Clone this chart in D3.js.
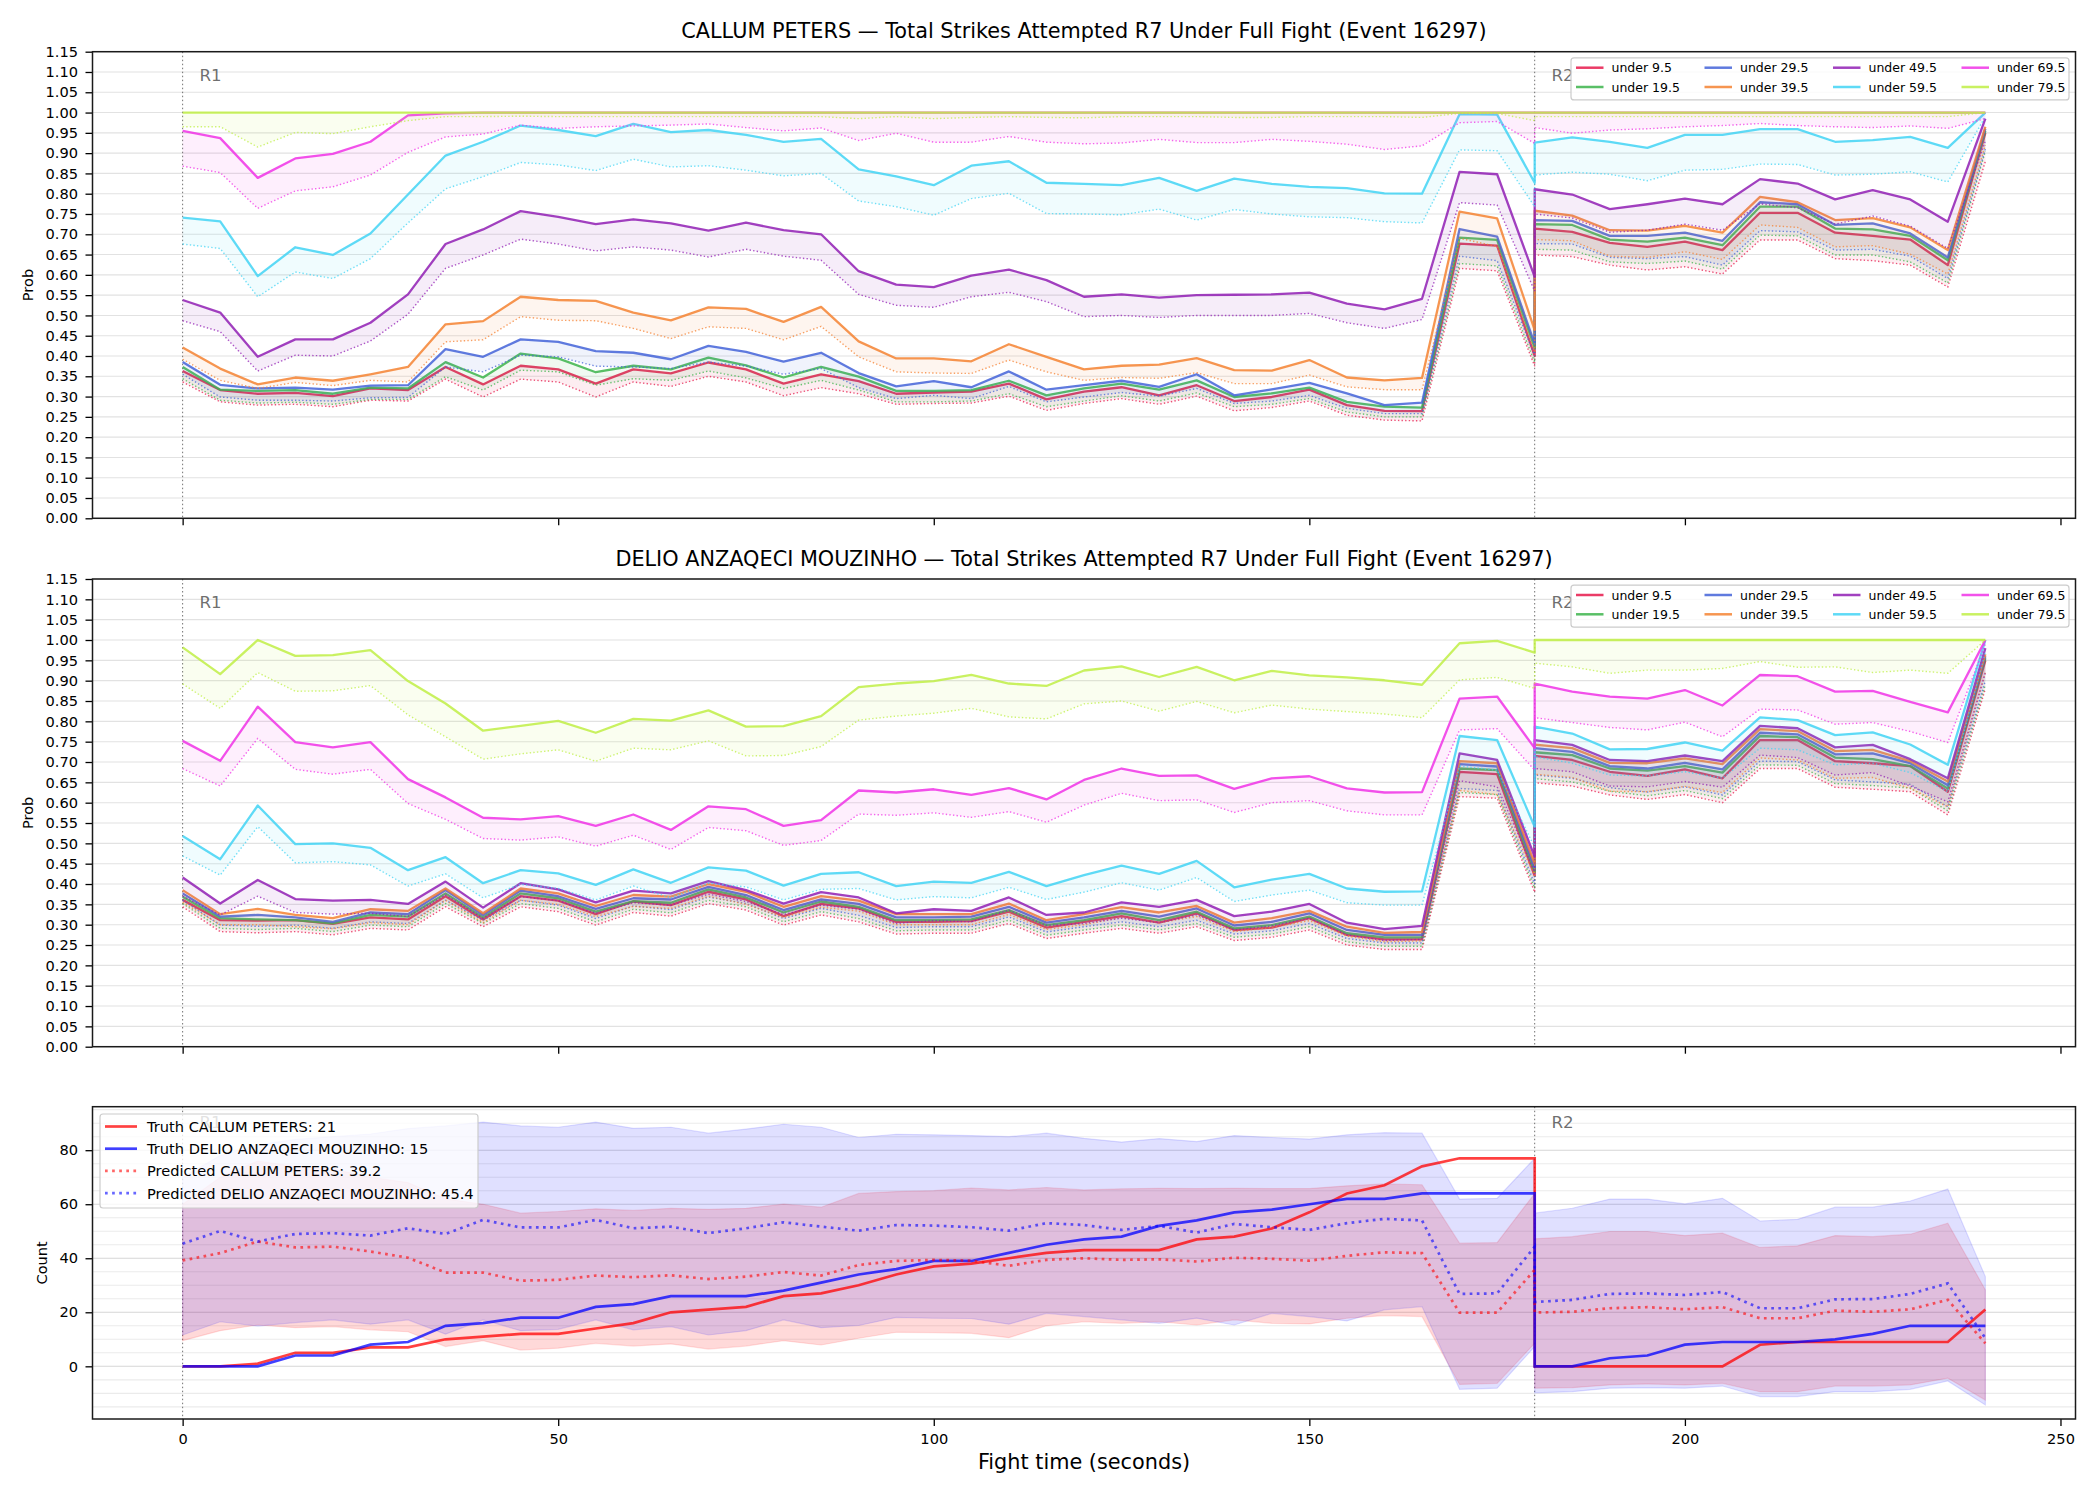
<!DOCTYPE html>
<html>
<head>
<meta charset="utf-8">
<script src="https://cdn.jsdelivr.net/npm/d3@7"></script>
<style>
  body { margin: 0; background: #fff; }
  svg { display: block; }
</style>
</head>
<body>
<div id="chart"></div>
<script>
// time axis: round 1 (0..180) then round 2 restarts at 180
const TIMES = [0,5,10,15,20,25,30,35,40,45,50,55,60,65,70,75,80,85,90,95,100,105,110,115,120,125,130,135,140,145,150,155,160,165,170,175,180,
  180,185,190,195,200,205,210,215,220,225,230,235,240];
const X_TICKS = [0, 50, 100, 150, 200, 250];
const COUNT_TICKS = [0, 20, 40, 60, 80];
const ROUND_STARTS = [0, 180];
const ROUND_LABELS = ['R1', 'R2'];

const LINE_NAMES = ['under 9.5', 'under 19.5', 'under 29.5', 'under 39.5', 'under 49.5', 'under 59.5', 'under 69.5', 'under 79.5'];
const LINE_COLORS = ['#e6194b', '#3cb44b', '#4363d8', '#f58231', '#911eb4', '#42d4f4', '#f032e6', '#bfef45'];

// CALLUM PETERS, solid = prob, _LO = dotted lower line
const C_U9 = [.363,.316,.307,.309,.301,.320,.316,.373,.330,.376,.367,.332,.367,.357,.384,.367,.332,.355,.338,.307,.310,.312,.332,.293,.312,.323,.303,.328,.289,.299,.317,.279,.265,.264,.677,.672,.400,
  .714,.706,.679,.669,.682,.661,.753,.753,.704,.696,.687,.624,.950];
const C_U9_LO = [.336,.287,.279,.281,.275,.291,.289,.343,.299,.343,.336,.299,.336,.325,.350,.336,.302,.322,.307,.281,.283,.284,.301,.266,.283,.295,.281,.301,.265,.273,.289,.254,.242,.240,.616,.610,.375,
  .649,.645,.624,.612,.620,.602,.686,.686,.640,.635,.624,.570,.880];
const C_U19 = [.373,.317,.314,.316,.307,.322,.320,.385,.347,.406,.394,.360,.376,.367,.396,.377,.347,.373,.349,.314,.314,.316,.339,.303,.320,.332,.317,.340,.299,.308,.322,.287,.275,.273,.692,.686,.420,
  .725,.723,.687,.682,.692,.673,.768,.768,.714,.712,.696,.636,.955];
const C_U19_LO = [.344,.291,.284,.286,.281,.293,.293,.349,.316,.365,.361,.328,.344,.340,.363,.346,.320,.340,.316,.287,.287,.289,.307,.275,.289,.302,.289,.309,.275,.281,.295,.262,.250,.250,.628,.622,.385,
  .663,.661,.632,.628,.634,.614,.698,.696,.649,.649,.632,.580,.905];
const C_U29 = [.385,.329,.320,.322,.317,.327,.328,.417,.398,.441,.435,.412,.408,.392,.425,.410,.386,.408,.358,.325,.338,.323,.362,.317,.328,.339,.324,.355,.303,.318,.334,.308,.279,.285,.713,.694,.430,
  .735,.733,.696,.696,.704,.684,.779,.774,.723,.727,.702,.643,.960];
const C_U29_LO = [.355,.299,.291,.291,.289,.297,.298,.373,.361,.402,.398,.375,.373,.369,.385,.375,.355,.369,.322,.295,.303,.295,.325,.287,.299,.310,.301,.320,.283,.289,.303,.271,.258,.258,.646,.635,.400,
  .677,.676,.643,.640,.645,.624,.709,.706,.661,.663,.646,.591,.910];
const C_U39 = [.421,.369,.330,.347,.339,.355,.373,.478,.486,.546,.538,.536,.507,.488,.520,.516,.484,.521,.436,.394,.394,.387,.429,.398,.367,.376,.379,.395,.365,.364,.390,.347,.340,.346,.756,.739,.464,
  .758,.746,.710,.709,.721,.704,.792,.779,.735,.740,.717,.661,.965];
const C_U39_LO = [.392,.340,.320,.335,.327,.340,.336,.435,.440,.497,.488,.487,.468,.443,.472,.468,.440,.473,.398,.361,.358,.357,.390,.361,.340,.347,.345,.359,.332,.332,.353,.324,.317,.317,.690,.670,.410,
  .687,.684,.646,.643,.657,.638,.723,.717,.669,.672,.651,.602,.920];
const C_U49 = [.538,.507,.398,.441,.441,.482,.552,.676,.712,.757,.743,.725,.737,.727,.709,.729,.710,.700,.609,.576,.570,.598,.613,.587,.546,.552,.544,.550,.551,.552,.556,.529,.515,.541,.854,.848,.595,
  .811,.798,.762,.774,.788,.774,.836,.825,.786,.809,.786,.731,.985];
const C_U49_LO = [.487,.460,.363,.402,.400,.437,.503,.616,.649,.688,.676,.659,.669,.661,.644,.663,.646,.636,.552,.525,.520,.546,.557,.534,.497,.500,.495,.500,.500,.500,.505,.482,.468,.490,.778,.772,.560,
  .750,.740,.705,.710,.725,.710,.775,.765,.725,.745,.720,.665,.930];
const C_U59 = [.741,.732,.597,.668,.649,.702,.798,.894,.928,.968,.957,.942,.972,.952,.957,.945,.928,.935,.860,.843,.821,.869,.880,.827,.824,.821,.839,.807,.837,.824,.817,.814,.801,.800,.996,.995,.827,
  .926,.939,.928,.913,.945,.945,.959,.959,.928,.932,.940,.913,1.0];
const C_U59_LO = [.676,.665,.546,.607,.591,.640,.728,.812,.842,.877,.871,.857,.885,.866,.869,.858,.844,.850,.782,.768,.747,.788,.801,.751,.750,.748,.762,.735,.761,.750,.743,.741,.731,.728,.908,.906,.768,
  .846,.853,.848,.832,.858,.860,.873,.872,.846,.848,.854,.829,.990];
const C_U69 = [.955,.937,.839,.887,.898,.928,.993,.998,1,1,1,1,1,1,1,1,1,1,1,1,1,1,1,1,1,1,1,1,1,1,1,1,1,1,1,1,1,
  1,1,1,1,1,1,1,1,1,1,1,1,1];
const C_U69_LO = [.868,.852,.764,.807,.817,.846,.902,.940,.947,.969,.961,.965,.967,.969,.972,.963,.955,.962,.931,.949,.927,.927,.941,.927,.923,.925,.934,.926,.926,.934,.929,.922,.909,.918,.975,.978,.924,
  .963,.949,.957,.960,.965,.968,.973,.968,.965,.963,.967,.961,.985];
const C_U79 = [1,1,1,1,1,1,1,1,1,1,1,1,1,1,1,1,1,1,1,1,1,1,1,1,1,1,1,1,1,1,1,1,1,1,1,1,1,
  1,1,1,1,1,1,1,1,1,1,1,1,1];
const C_U79_LO = [.965,.965,.915,.951,.948,.965,.980,.990,.990,.991,.990,.990,.990,.990,.990,.990,.990,.990,.985,.990,.985,.988,.990,.988,.987,.990,.990,.990,.988,.988,.990,.990,.990,.988,.998,.998,.980,
  .990,.990,.990,.990,.990,.990,.990,.990,.990,.990,.990,.990,1.0];

// DELIO ANZAQECI MOUZINHO
const D_U9 = [.361,.311,.310,.311,.302,.318,.313,.370,.313,.370,.359,.326,.357,.348,.381,.362,.321,.351,.340,.307,.307,.309,.332,.293,.307,.321,.305,.328,.287,.293,.316,.275,.264,.264,.676,.670,.420,
  .715,.705,.676,.666,.682,.660,.754,.754,.702,.697,.690,.627,.950];
const D_U9_LO = [.344,.283,.280,.283,.275,.291,.287,.344,.295,.344,.332,.299,.330,.321,.352,.336,.299,.324,.307,.277,.279,.279,.303,.266,.279,.291,.279,.295,.261,.269,.287,.250,.239,.239,.615,.611,.380,
  .649,.641,.619,.608,.620,.600,.684,.684,.638,.633,.627,.570,.880];
const D_U19 = [.369,.316,.313,.311,.303,.324,.320,.377,.318,.377,.365,.332,.358,.354,.387,.367,.330,.357,.344,.311,.311,.313,.336,.299,.311,.328,.311,.332,.291,.299,.320,.279,.269,.269,.684,.680,.430,
  .724,.717,.684,.679,.690,.674,.764,.761,.711,.707,.690,.635,.955];
const D_U19_LO = [.352,.291,.288,.291,.283,.299,.295,.352,.303,.352,.340,.307,.338,.329,.360,.344,.307,.332,.315,.285,.287,.287,.311,.274,.287,.299,.287,.303,.269,.277,.295,.258,.247,.247,.625,.620,.390,
  .659,.651,.628,.617,.630,.610,.693,.692,.647,.642,.636,.580,.890];
const D_U29 = [.377,.320,.324,.318,.307,.330,.326,.385,.324,.384,.370,.339,.365,.362,.393,.373,.336,.362,.351,.318,.318,.320,.344,.305,.318,.334,.320,.340,.298,.307,.328,.287,.275,.275,.695,.689,.440,
  .734,.725,.690,.684,.698,.682,.772,.768,.719,.721,.697,.643,.960];
const D_U29_LO = [.360,.299,.296,.299,.291,.307,.303,.360,.311,.360,.348,.315,.346,.337,.368,.352,.315,.340,.323,.293,.295,.295,.319,.282,.295,.307,.295,.311,.277,.285,.303,.266,.255,.255,.635,.630,.400,
  .668,.660,.637,.626,.639,.619,.702,.701,.656,.651,.645,.590,.900];
const D_U39 = [.385,.326,.339,.324,.316,.338,.334,.389,.328,.389,.377,.346,.373,.369,.400,.381,.344,.370,.359,.326,.326,.326,.352,.311,.326,.343,.330,.346,.305,.316,.334,.295,.280,.282,.702,.697,.450,
  .743,.734,.698,.697,.709,.695,.781,.776,.727,.730,.702,.652,.965];
const D_U39_LO = [.355,.300,.300,.295,.290,.305,.300,.360,.305,.360,.350,.320,.345,.340,.370,.350,.318,.343,.333,.300,.300,.300,.325,.288,.300,.318,.305,.320,.283,.293,.310,.272,.258,.260,.630,.620,.420,
  .670,.662,.628,.627,.640,.625,.710,.705,.660,.662,.635,.590,.920];
const D_U49 = [.416,.352,.410,.363,.359,.361,.351,.406,.342,.402,.387,.355,.384,.377,.407,.385,.352,.380,.367,.328,.338,.334,.367,.324,.330,.355,.344,.361,.321,.332,.351,.305,.289,.297,.721,.705,.467,
  .754,.742,.705,.702,.716,.702,.789,.783,.736,.742,.707,.660,.980];
const D_U49_LO = [.370,.324,.370,.330,.326,.328,.320,.373,.316,.369,.359,.328,.354,.348,.375,.357,.325,.348,.338,.303,.310,.307,.336,.298,.303,.316,.305,.324,.287,.297,.316,.275,.261,.264,.654,.639,.430,
  .684,.676,.641,.639,.652,.638,.717,.711,.668,.674,.641,.602,.920];
const D_U59 = [.518,.461,.593,.498,.500,.489,.434,.466,.402,.434,.426,.398,.436,.403,.441,.433,.396,.425,.429,.395,.406,.403,.430,.395,.422,.445,.425,.457,.392,.411,.425,.389,.381,.382,.764,.754,.541,
  .787,.770,.731,.732,.748,.728,.810,.803,.766,.773,.743,.693,1.0];
const D_U59_LO = [.469,.422,.541,.452,.455,.447,.395,.425,.366,.399,.389,.361,.395,.366,.402,.393,.361,.387,.389,.361,.369,.366,.392,.362,.380,.403,.385,.416,.357,.373,.385,.354,.348,.348,.690,.680,.490,
  .713,.697,.668,.666,.676,.660,.734,.730,.693,.697,.674,.627,.970];
const D_U69 = [.752,.703,.836,.749,.736,.749,.658,.613,.563,.559,.567,.543,.571,.533,.591,.584,.543,.557,.630,.625,.633,.619,.636,.608,.656,.684,.666,.667,.634,.660,.665,.635,.625,.626,.856,.861,.734,
  .893,.873,.861,.856,.877,.839,.914,.911,.873,.875,.848,.822,1.0];
const D_U69_LO = [.684,.641,.758,.682,.670,.682,.598,.559,.512,.508,.516,.493,.520,.485,.539,.531,.495,.507,.572,.569,.575,.564,.578,.552,.594,.623,.605,.607,.576,.600,.605,.580,.570,.570,.779,.782,.680,
  .809,.797,.785,.779,.798,.762,.830,.828,.793,.797,.775,.748,.990];
const D_U79 = [.982,.916,1.0,.961,.963,.975,.899,.844,.777,.789,.801,.772,.806,.802,.827,.787,.788,.813,.884,.893,.899,.914,.893,.887,.925,.935,.909,.934,.901,.924,.913,.908,.901,.890,.992,.998,.969,
  1,1,1,1,1,1,1,1,1,1,1,1,1];
const D_U79_LO = [.892,.832,.920,.874,.875,.888,.816,.762,.707,.720,.730,.702,.734,.730,.752,.715,.716,.738,.803,.813,.820,.832,.811,.806,.843,.850,.825,.849,.821,.840,.830,.824,.818,.809,.902,.908,.881,
  .943,.934,.918,.926,.926,.930,.947,.933,.934,.920,.926,.918,1.0];

// counts
const TRUTH_CALLUM = [0,0,1,5,5,7,7,10,11,12,12,14,16,20,21,22,26,27,30,34,37,38,40,42,43,43,43,47,48,51,57,64,67,74,77,77,77,
  0,0,0,0,0,0,8,9,9,9,9,9,21];
const TRUTH_DELIO = [0,0,0,4,4,8,9,15,16,18,18,22,23,26,26,26,28,31,34,36,39,39,42,45,47,48,52,54,57,58,60,62,62,64,64,64,64,
  0,0,3,4,8,9,9,9,10,12,15,15,15];
const PRED_CALLUM = [39.2,41.9,46.2,44,44.3,42.5,40.2,34.7,34.7,31.7,32,33.6,33,33.7,32.3,33.2,34.9,33.6,37.5,39,39.4,39.1,37.2,39.4,40,39.4,39.6,38.8,40.2,39.8,39.1,40.9,42.2,41.9,19.9,19.9,35.7,
  19.9,20.2,21.5,21.9,21.1,21.9,17.8,17.8,20.6,20.2,21.1,24.6,8.5];
const PRED_DELIO = [45.4,50.1,46.2,49,49.3,48.4,51.1,49,54.2,51.4,51.4,54.2,51.1,51.7,49.3,51.1,53.3,51.7,50.2,52.3,52.1,51.5,50.2,53,52.3,50.5,52,49.5,52.7,51.5,50.5,53,54.6,54,26.8,27,44.3,
  23.8,24.6,26.8,27,26.4,27.5,21.5,21.5,24.8,24.9,26.8,30.7,10.4];
const CALLUM_HI = [60,70,76,74,73,70,68,62,60,56.7,57.3,58.3,57.7,58.5,58.1,58.5,60,58.9,64,64.7,65,66,65.3,66.2,65.3,65.7,65.9,65.8,65.9,65.8,65.8,66.8,67.5,67.2,45.6,45.8,64,
  47.2,48,49.9,49.9,48.4,49.3,44,44.6,48.4,48,48.9,53,28.3];
const CALLUM_LO = [9.5,13.2,15.3,14.3,14.7,13.5,12.8,7.3,9.5,6,6.7,8.5,7.5,8.3,6.4,7.5,9.5,7.9,10.4,12.6,12.5,12.2,10.6,15,16.5,15.9,16.5,15.3,17.2,15.9,15.7,17.8,18.8,18.4,-6.7,-6.3,8.5,
  -8.1,-7.9,-6.9,-6.5,-6.9,-6.3,-9.4,-9.4,-7.3,-7.3,-6.9,-4.4,-12.5];
const DELIO_HI = [70,78,82,84,85,86,88,89,90.4,89,88.5,90.4,88.1,88.5,86.3,87.8,89.6,88.5,84.7,85.9,85.7,85.4,85,86.3,84.4,83,84.3,83.2,85.4,84.7,84.1,85.7,86.5,86.3,61.9,62.2,77,
  56.7,58.5,61.9,61.9,60.1,62.2,53.8,54.4,58.9,58.9,61.2,65.6,33.2];
const DELIO_LO = [11.6,16.5,14.9,16.2,17.2,15.6,17.2,11.9,17.2,13.2,13.7,17.2,13.5,14.7,11.6,13.2,17.2,14.3,15.1,18.1,17.8,17.7,15.6,19.6,18.4,17.2,15.9,17.8,15.3,19.6,18.4,16.8,20.9,22.1,-8.5,-8.1,7.3,
  -9.8,-9.4,-8.1,-7.9,-8.1,-7.3,-11.2,-11.2,-9.4,-9.4,-8.5,-5.4,-14.3];

const FONT = "'DejaVu Sans', sans-serif";
const LEFT = 92.5, RIGHT = 2075.5;

const svg = d3.select('#chart').append('svg')
  .attr('width', 2100).attr('height', 1500)
  .style('font-family', FONT);

const x = d3.scaleLinear().domain([-12, 252]).range([LEFT, RIGHT]);

function linePath(y, values) {
  return d3.line().x((d, i) => x(TIMES[i])).y(d => y(d))(values);
}

function bandPath(y, hi, lo) {
  return d3.area().x((d, i) => x(TIMES[i])).y0((d, i) => y(lo[i])).y1(d => y(d))(hi);
}

function drawAxes(top, bottom, y, yTicks, yFormat, xLabels) {
  const ya = svg.append('g')
    .attr('transform', `translate(${LEFT},0)`)
    .call(d3.axisLeft(y).tickValues(yTicks).tickFormat(yFormat).tickSize(7).tickPadding(7.5));
  ya.select('.domain').remove();
  ya.attr('font-size', 14.6).attr('font-family', FONT);
  ya.selectAll('text').attr('fill', '#000');
  ya.selectAll('line').attr('stroke', '#000').attr('stroke-width', 1.3);

  const xa = svg.append('g')
    .attr('transform', `translate(0,${bottom})`)
    .call(d3.axisBottom(x).tickValues(X_TICKS).tickFormat(xLabels ? d3.format('d') : '').tickSize(7).tickPadding(8));
  xa.select('.domain').remove();
  xa.attr('font-size', 14.6).attr('font-family', FONT);
  xa.selectAll('text').attr('fill', '#000');
  xa.selectAll('line').attr('stroke', '#000').attr('stroke-width', 1.3);
}

function drawRounds(top, bottom) {
  ROUND_STARTS.forEach((t, i) => {
    svg.append('line')
      .attr('x1', x(t)).attr('x2', x(t)).attr('y1', top).attr('y2', bottom)
      .attr('stroke', '#444').attr('stroke-opacity', 0.75)
      .attr('stroke-width', 1).attr('stroke-dasharray', '1.5,2.5');
    svg.append('text')
      .attr('x', x(t) + 16.8).attr('y', top + 0.05 * (bottom - top))
      .attr('dominant-baseline', 'central')
      .attr('font-size', 16.7).attr('fill', '#555').attr('fill-opacity', 0.85)
      .text(ROUND_LABELS[i]);
  });
}

function drawSpine(top, bottom) {
  svg.append('rect')
    .attr('x', LEFT).attr('y', top).attr('width', RIGHT - LEFT).attr('height', bottom - top)
    .attr('fill', 'none').attr('stroke', '#1a1a1a').attr('stroke-width', 1.5);
}

function drawProbPanel(top, bottom, title, solids, lows) {
  const y = d3.scaleLinear().domain([0, 1.15]).range([bottom, top]);
  const ticks = d3.range(0, 1.151, 0.05);

  svg.append('g').selectAll('line').data(ticks).join('line')
    .attr('x1', LEFT).attr('x2', RIGHT)
    .attr('y1', d => y(d)).attr('y2', d => y(d))
    .attr('stroke', '#e2e2e2').attr('stroke-width', 1.1);

  drawRounds(top, bottom);

  solids.forEach((vals, i) => {
    const c = LINE_COLORS[i];
    svg.append('path').attr('d', bandPath(y, vals, lows[i]))
      .attr('fill', c).attr('fill-opacity', 0.08);
    svg.append('path').attr('d', linePath(y, lows[i]))
      .attr('fill', 'none').attr('stroke', c).attr('stroke-opacity', 0.75)
      .attr('stroke-width', 1.4).attr('stroke-dasharray', '1.4,2.2');
    svg.append('path').attr('d', linePath(y, vals))
      .attr('fill', 'none').attr('stroke', c).attr('stroke-opacity', 0.85)
      .attr('stroke-width', 2.3).attr('stroke-linejoin', 'round');
  });

  drawAxes(top, bottom, y, ticks, d3.format('.2f'), false);
  drawSpine(top, bottom);

  svg.append('text')
    .attr('x', (LEFT + RIGHT) / 2).attr('y', top - 13.5)
    .attr('text-anchor', 'middle').attr('font-size', 20.8).attr('fill', '#000')
    .text(title);

  svg.append('text')
    .attr('transform', `translate(27.5,${(top + bottom) / 2}) rotate(-90)`)
    .attr('text-anchor', 'middle').attr('dominant-baseline', 'central')
    .attr('font-size', 14.6).text('Prob');

  // legend, 4 columns x 2 rows
  const lg = svg.append('g');
  lg.append('rect')
    .attr('x', 1571).attr('y', top + 6.2).attr('width', 498).attr('height', 42)
    .attr('rx', 3).attr('fill', '#fff').attr('fill-opacity', 0.8)
    .attr('stroke', '#ccc').attr('stroke-width', 1.2);
  LINE_NAMES.forEach((name, i) => {
    const col = Math.floor(i / 2), row = i % 2;
    const hx = 1576 + col * 128.5, hy = top + 16 + row * 19.3;
    lg.append('line')
      .attr('x1', hx).attr('x2', hx + 27.5).attr('y1', hy).attr('y2', hy)
      .attr('stroke', LINE_COLORS[i]).attr('stroke-opacity', 0.85).attr('stroke-width', 2.5);
    lg.append('text')
      .attr('x', hx + 35.5).attr('y', hy).attr('dominant-baseline', 'central')
      .attr('font-size', 12.5).attr('fill', '#000').text(name);
  });
}

function drawCountPanel(top, bottom) {
  const y = d3.scaleLinear().domain([-19.5, 96.1]).range([bottom, top]);

  svg.append('g').selectAll('line').data(d3.range(-15, 96, 5)).join('line')
    .attr('x1', LEFT).attr('x2', RIGHT)
    .attr('y1', d => y(d)).attr('y2', d => y(d))
    .attr('stroke', d => d % 20 === 0 ? '#d6d6d6' : '#ebebeb').attr('stroke-width', 1.1);

  drawRounds(top, bottom);

  svg.append('path').attr('d', bandPath(y, CALLUM_HI, CALLUM_LO))
    .attr('fill', 'red').attr('fill-opacity', 0.15)
    .attr('stroke', 'red').attr('stroke-opacity', 0.12).attr('stroke-width', 1.2);
  svg.append('path').attr('d', bandPath(y, DELIO_HI, DELIO_LO))
    .attr('fill', 'blue').attr('fill-opacity', 0.12)
    .attr('stroke', 'blue').attr('stroke-opacity', 0.12).attr('stroke-width', 1.2);

  svg.append('path').attr('d', linePath(y, TRUTH_CALLUM))
    .attr('fill', 'none').attr('stroke', 'red').attr('stroke-opacity', 0.75).attr('stroke-width', 2.7);
  svg.append('path').attr('d', linePath(y, TRUTH_DELIO))
    .attr('fill', 'none').attr('stroke', 'blue').attr('stroke-opacity', 0.75).attr('stroke-width', 2.7);
  svg.append('path').attr('d', linePath(y, PRED_CALLUM))
    .attr('fill', 'none').attr('stroke', 'red').attr('stroke-opacity', 0.6)
    .attr('stroke-width', 2.7).attr('stroke-dasharray', '2.7,4.4');
  svg.append('path').attr('d', linePath(y, PRED_DELIO))
    .attr('fill', 'none').attr('stroke', 'blue').attr('stroke-opacity', 0.6)
    .attr('stroke-width', 2.7).attr('stroke-dasharray', '2.7,4.4');

  drawAxes(top, bottom, y, COUNT_TICKS, d3.format('d'), true);
  drawSpine(top, bottom);

  svg.append('text')
    .attr('transform', `translate(41,${(top + bottom) / 2}) rotate(-90)`)
    .attr('text-anchor', 'middle').attr('dominant-baseline', 'central')
    .attr('font-size', 14.6).text('Count');

  svg.append('text')
    .attr('x', (LEFT + RIGHT) / 2).attr('y', 1469)
    .attr('text-anchor', 'middle').attr('font-size', 20.8).text('Fight time (seconds)');

  const items = [
    { label: 'Truth CALLUM PETERS: 21', color: 'red', op: 0.75, dash: null },
    { label: 'Truth DELIO ANZAQECI MOUZINHO: 15', color: 'blue', op: 0.75, dash: null },
    { label: 'Predicted CALLUM PETERS: 39.2', color: 'red', op: 0.6, dash: '2.7,4.4' },
    { label: 'Predicted DELIO ANZAQECI MOUZINHO: 45.4', color: 'blue', op: 0.6, dash: '2.7,4.4' }
  ];
  const lg = svg.append('g');
  lg.append('rect')
    .attr('x', 100).attr('y', 1114).attr('width', 378).attr('height', 94)
    .attr('rx', 3).attr('fill', '#fff').attr('fill-opacity', 0.8)
    .attr('stroke', '#ccc').attr('stroke-width', 1.2);
  items.forEach((it, i) => {
    const hy = 1126.5 + i * 22.2;
    lg.append('line')
      .attr('x1', 105).attr('x2', 137).attr('y1', hy).attr('y2', hy)
      .attr('stroke', it.color).attr('stroke-opacity', it.op).attr('stroke-width', 2.7)
      .attr('stroke-dasharray', it.dash);
    lg.append('text')
      .attr('x', 147).attr('y', hy).attr('dominant-baseline', 'central')
      .attr('font-size', 14.6).attr('fill', '#000').text(it.label);
  });
}

drawProbPanel(51.7, 518.3, 'CALLUM PETERS \u2014 Total Strikes Attempted R7 Under Full Fight (Event 16297)',
  [C_U9, C_U19, C_U29, C_U39, C_U49, C_U59, C_U69, C_U79],
  [C_U9_LO, C_U19_LO, C_U29_LO, C_U39_LO, C_U49_LO, C_U59_LO, C_U69_LO, C_U79_LO]);

drawProbPanel(579, 1046.7, 'DELIO ANZAQECI MOUZINHO \u2014 Total Strikes Attempted R7 Under Full Fight (Event 16297)',
  [D_U9, D_U19, D_U29, D_U39, D_U49, D_U59, D_U69, D_U79],
  [D_U9_LO, D_U19_LO, D_U29_LO, D_U39_LO, D_U49_LO, D_U59_LO, D_U69_LO, D_U79_LO]);

drawCountPanel(1106.7, 1419);
</script>
</body>
</html>
